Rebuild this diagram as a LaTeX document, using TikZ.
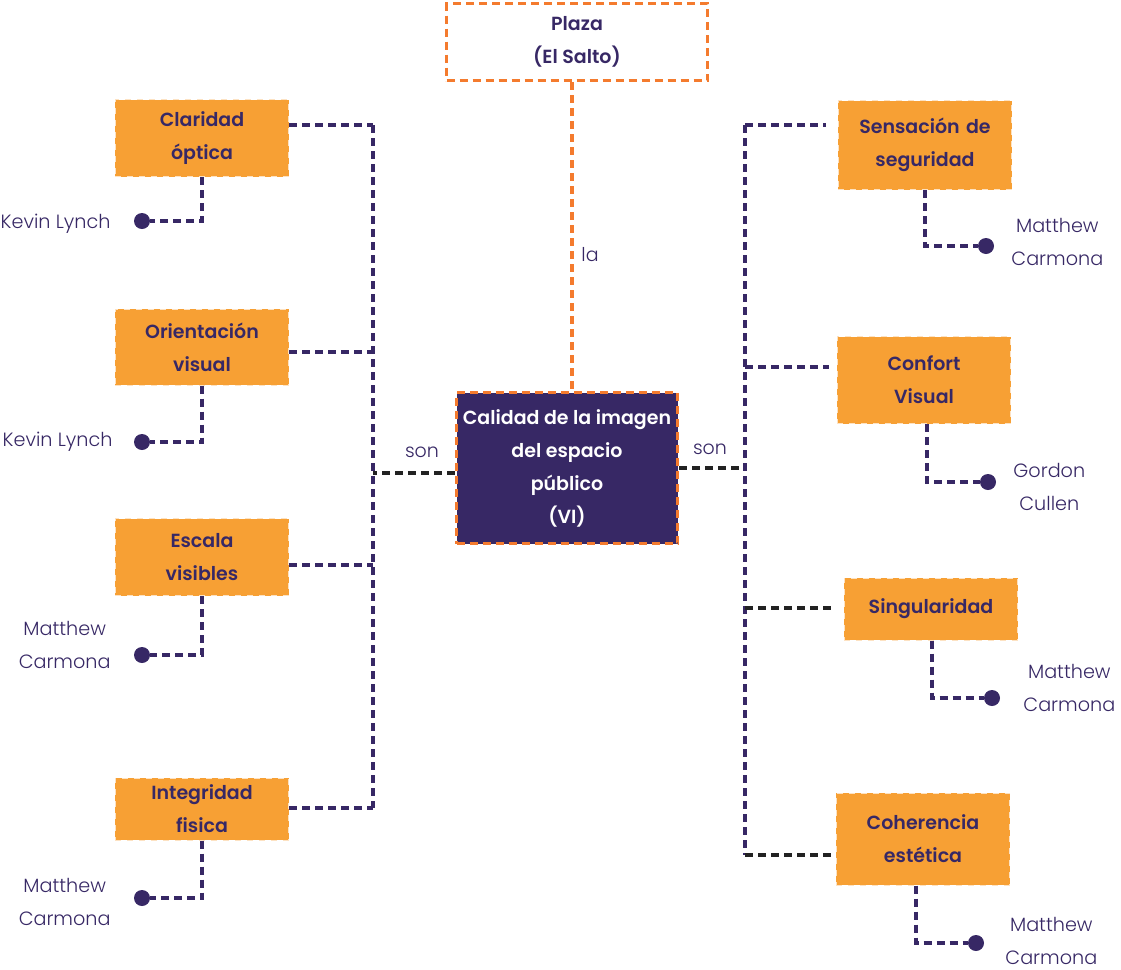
\documentclass[tikz,border=0pt]{standalone}
\usepackage{fontspec}
\setmainfont{Poppins}[BoldFont={Poppins SemiBold}]
\newfontfamily\ligera{Poppins Light}
\usepackage{xcolor}
\usetikzlibrary{positioning, calc}

\definecolor{morado}{HTML}{372865}
\definecolor{naranja}{HTML}{F7A034}
\definecolor{naranjaborde}{HTML}{F47B2E}
\definecolor{negro}{HTML}{222222}

\begin{document}
\begin{tikzpicture}[x=0.5pt,y=-0.5pt,
    concepto/.style={draw=white!70!naranja,fill=naranja,dashed,line width=0.5pt,
      minimum width=85.5pt,text width=80pt,align=center,font=\bfseries\fontsize{9.5}{16.5}\selectfont,
      text=morado},
    enlace/.style={draw=morado,line width=1.75pt,dash pattern=on 4pt off 2.5pt},
    enlacenegro/.style={enlace,draw=negro},
    punto/.style={circle,fill=morado,inner sep=0pt,minimum size=8pt},
    autor/.style={text=morado,align=center,font=\ligera\fontsize{9.6}{16.5}\selectfont},
    rotulo/.style={text=morado,font=\ligera\fontsize{9.5}{12}\selectfont}]
  \useasboundingbox (0,0) rectangle (1121,970);

  % nodo central y plaza
  \node[draw=naranjaborde,fill=white,line width=1.75pt,dash pattern=on 4pt off 2.5pt,
    minimum width=130.5pt,minimum height=38.5pt,align=center,text=morado,
    font=\bfseries\fontsize{9.5}{16.5}\selectfont] (plaza) at (577,42) {Plaza\\(El Salto)};
  \node[draw=naranjaborde,fill=morado,line width=1.75pt,dash pattern=on 4pt off 2.5pt,
    minimum width=110.5pt,minimum height=75.5pt,align=center,text=white,inner sep=1pt,
    font=\bfseries\fontsize{9.5}{16.5}\selectfont] (vi) at (567,468)
    {Calidad de la imagen\\del espacio\\público\\(VI)};
  \draw[draw=naranjaborde,line width=1.75pt,dash pattern=on 4pt off 2.5pt]
    (plaza.south -| 572,0) -- (vi.north -| 572,0);
  \node[rotulo] at (590,255) {la};

  % conceptos izquierda
  \node[concepto,minimum height=38.5pt] (c1) at (202,138) {Claridad\\óptica};
  \node[concepto,minimum height=38pt] (c2) at (202,347) {Orientación\\visual};
  \node[concepto,minimum height=38.5pt] (c3) at (202,557) {Escala\\visibles};
  \node[concepto,minimum height=31pt] (c4) at (202,809) {Integridad\\fisica};

  % conceptos derecha
  \node[concepto,minimum height=44.5pt] (k1) at (925,145) {Sensación de\\seguridad};
  \node[concepto,minimum height=43.5pt] (k2) at (924,380) {Confort\\Visual};
  \node[concepto,minimum height=31pt] (k3) at (931,609) {Singularidad};
  \node[concepto,minimum height=46pt] (k4) at (923,839) {Coherencia\\estética};

  % troncos
  \coordinate (tl) at (373,473);
  \coordinate (tl1) at (373,125);
  \coordinate (tl2) at (373,352);
  \coordinate (tl3) at (373,565);
  \coordinate (tl4) at (373,808);
  \coordinate (tr) at (745,468);
  \coordinate (tr1) at (745,125);
  \coordinate (tr2) at (745,367);
  \coordinate (tr3) at (745,608);
  \coordinate (tr4) at (745,855);

  \draw[enlacenegro] (vi.west |- tl) -- (tl);
  \node[rotulo] at (422,452) {son};
  \draw[enlace] (tl1) -- (tl4);
  \draw[enlace] (c1.east |- tl1) -- (tl1);
  \draw[enlace] (c2.east |- tl2) -- (tl2);
  \draw[enlace] (c3.east |- tl3) -- (tl3);
  \draw[enlace] (c4.east |- tl4) -- (tl4);

  \draw[enlacenegro] (vi.east |- tr) -- (tr);
  \node[rotulo] at (710,449) {son};
  \draw[enlace] (tr1) -- (tr4);
  \draw[enlace] (tr1) -- ([xshift=-6pt]k1.west |- tr1);
  \draw[enlace] (tr2) -- ([xshift=-4pt]k2.west |- tr2);
  \draw[enlacenegro] (tr3) -- ([xshift=-4pt]k3.west |- tr3);
  \draw[enlacenegro] (tr4) -- (k4.west |- tr4);

  % autores izquierda
  \node[punto] (d1) at (142,221) {};
  \node[punto] (d2) at (142,442) {};
  \node[punto] (d3) at (142,655) {};
  \node[punto] (d4) at (142,898) {};
  \draw[enlace] (c1.south) |- (d1);
  \draw[enlace] (c2.south) |- (d2);
  \draw[enlace] (c3.south) |- (d3);
  \draw[enlace] (c4.south) |- (d4);
  \node[autor,left=8pt of d1,yshift=-1.5pt] {Kevin Lynch};
  \node[autor,left=7pt of d2] {Kevin Lynch};
  \node[autor,left=8pt of d3,yshift=5pt] {Matthew\\Carmona};
  \node[autor,left=8pt of d4,yshift=-2pt] {Matthew\\Carmona};

  % autores derecha
  \node[punto] (d5) at (986,246) {};
  \node[punto] (d6) at (988,482) {};
  \node[punto] (d7) at (992,698) {};
  \node[punto] (d8) at (976,943) {};
  \draw[enlace] (k1.south) |- (d5);
  \draw[enlace] ([xshift=1.5pt]k2.south) |- (d6);
  \draw[enlace] ([xshift=0.5pt]k3.south) |- (d7);
  \draw[enlace] ([xshift=-3.5pt]k4.south) |- (d8);
  \node[autor,right=5pt of d5,yshift=2pt] {Matthew\\Carmona};
  \node[autor,right=5pt of d6,yshift=-2.5pt] {Gordon\\Cullen};
  \node[autor,right=8pt of d7,yshift=5pt] {Matthew\\Carmona};
  \node[autor,right=7pt of d8,yshift=1pt] {Matthew\\Carmona};
\end{tikzpicture}
\end{document}
